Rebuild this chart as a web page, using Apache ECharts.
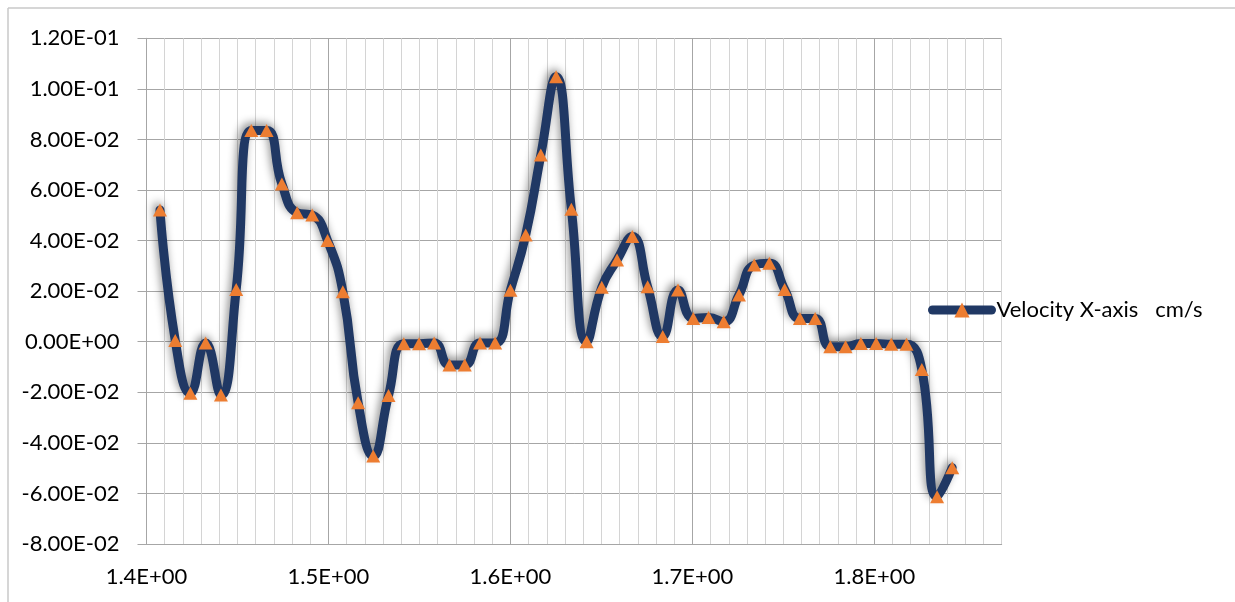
<!DOCTYPE html>
<html>
<head>
<meta charset="utf-8">
<script src="https://cdn.jsdelivr.net/npm/echarts@6/dist/echarts.min.js"></script>
<style>
html,body{margin:0;padding:0;background:#fff;}
#chart{width:1235px;height:602px;}
</style>
</head>
<body>
<div id="chart"></div>
<script>
// Time (x) values
var timeValues = [1.4074,1.4158,1.4241,1.4325,1.4409,1.4493,1.4576,1.4660,1.4744,1.4828,
  1.4911,1.4995,1.5079,1.5163,1.5246,1.5330,1.5414,1.5498,1.5581,1.5665,
  1.5749,1.5833,1.5916,1.6000,1.6084,1.6167,1.6251,1.6335,1.6419,1.6502,
  1.6586,1.6670,1.6754,1.6837,1.6921,1.7005,1.7089,1.7172,1.7256,1.7340,
  1.7423,1.7507,1.7591,1.7675,1.7758,1.7842,1.7926,1.8010,1.8093,1.8177,
  1.8261,1.8345,1.8428];
// Velocity values (cm/s)
var velocityValues = [0.0521,0.0005,-0.0204,-0.0005,-0.0211,0.0207,0.0835,0.0835,0.0624,0.0510,
  0.0501,0.0400,0.0198,-0.0241,-0.0452,-0.0213,-0.0008,-0.0008,-0.0005,-0.0092,
  -0.0092,-0.0005,-0.0005,0.0204,0.0422,0.0738,0.1048,0.0524,0.0000,0.0215,
  0.0323,0.0416,0.0217,0.0021,0.0205,0.0092,0.0096,0.0079,0.0185,0.0303,
  0.0310,0.0207,0.0092,0.0092,-0.0020,-0.0020,-0.0007,-0.0007,-0.0010,-0.0010,
  -0.0110,-0.0613,-0.0498];
var seriesName = 'Velocity X-axis   cm/s';

function expFmt(v, digits) {
  var s = Number(v).toExponential(digits);
  var parts = s.split('e');
  var exp = parseInt(parts[1], 10);
  var sign = exp < 0 ? '-' : '+';
  var a = Math.abs(exp);
  return parts[0] + 'E' + sign + (a < 10 ? '0' + a : '' + a);
}

var data = timeValues.map(function (t, i) { return [t, velocityValues[i]]; });

var chart = echarts.init(document.getElementById('chart'));
var FONT = 'Lato';
chart.setOption({
  animation: false,
  backgroundColor: '#ffffff',
  graphic: [
    { type: 'line', shape: { x1: 8, y1: 8, x2: 1240, y2: 8 }, style: { stroke: '#c8c8c8', lineWidth: 1.5 }, z: -1 },
    { type: 'line', shape: { x1: 8, y1: 8, x2: 8, y2: 610 }, style: { stroke: '#c8c8c8', lineWidth: 1.5 }, z: -1 }
  ],
  grid: { left: 146.5, top: 38.3, right: 233.3, bottom: 58, containLabel: false },
  legend: {
    left: 928, top: 299, padding: 0,
    itemWidth: 59, itemHeight: 19, itemGap: 5,
    textStyle: { fontFamily: FONT, fontSize: 22, color: '#000' },
    lineStyle: { width: 9, cap: 'round', color: '#203864', shadowBlur: 0 },
    data: [seriesName]
  },
  xAxis: {
    type: 'value', min: 1.4, max: 1.87, interval: 0.1,
    axisLine: { show: true, onZero: false, lineStyle: { color: '#a6a6a6', width: 1 } },
    axisTick: { show: false },
    axisLabel: {
      fontFamily: FONT, fontSize: 22, color: '#000', margin: 22,
      showMaxLabel: false,
      formatter: function (v) { return expFmt(v, 1); }
    },
    splitLine: { show: true, lineStyle: { color: '#a6a6a6', width: 1 } },
    minorTick: { show: false, splitNumber: 10 },
    minorSplitLine: { show: true, lineStyle: { color: '#d4d4d4', width: 1 } }
  },
  yAxis: {
    type: 'value', min: -0.08, max: 0.12, interval: 0.02,
    axisLine: { show: true, onZero: false, lineStyle: { color: '#a6a6a6', width: 1 } },
    axisTick: { show: true, inside: false, length: 9, lineStyle: { color: '#a6a6a6' } },
    axisLabel: {
      fontFamily: FONT, fontSize: 22, color: '#000', margin: 27,
      formatter: function (v) { return expFmt(v, 2); }
    },
    splitLine: { show: true, lineStyle: { color: '#a6a6a6', width: 1 } }
  },
  series: [{
    name: seriesName,
    type: 'line',
    data: data,
    smooth: 0.5,
    symbol: 'triangle',
    symbolSize: [14, 13],
    showAllSymbol: true,
    lineStyle: {
      color: '#203864', width: 9, cap: 'round', join: 'round',
      shadowColor: 'rgba(0,0,0,0.45)', shadowBlur: 9, shadowOffsetX: -2, shadowOffsetY: -3
    },
    itemStyle: { color: '#ed7d31', borderWidth: 0 },
    emphasis: { disabled: true }
  }]
});
</script>
</body>
</html>
